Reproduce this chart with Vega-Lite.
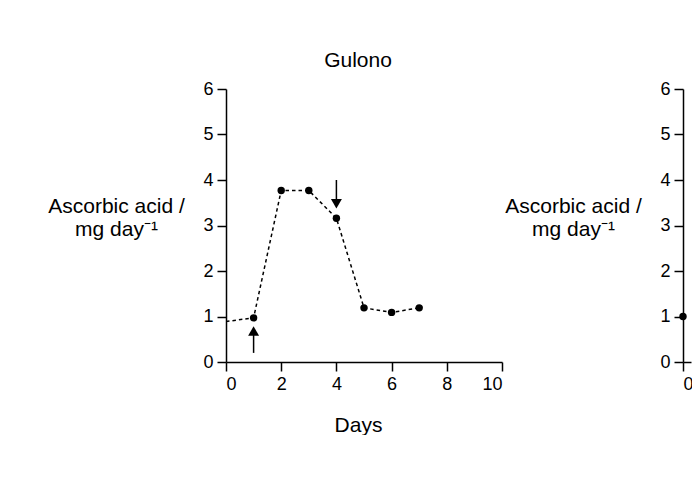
{
  "$schema": "https://vega.github.io/schema/vega-lite/v6.json",
  "padding": {"left": 47, "top": 50, "right": 0, "bottom": 0},
  "background": "white",
  "config": {
    "view": {"stroke": null},
    "font": "Liberation Sans",
    "axis": {
      "domainColor": "black", "domainWidth": 1.5,
      "tickColor": "black", "tickWidth": 1.5, "tickSize": 9,
      "labelFont": "Liberation Sans", "labelFontSize": 18, "labelColor": "black", "labelPadding": 4,
      "titleFont": "Liberation Sans", "titleFontSize": 21, "titleFontWeight": "normal", "titleColor": "black",
      "grid": false
    }
  },
  "bounds": "flush",
  "spacing": 181,
  "datasets": {
    "gulono": [
      {"day": 0, "value": 0.89},
      {"day": 1, "value": 0.97},
      {"day": 2, "value": 3.77},
      {"day": 3, "value": 3.77},
      {"day": 4, "value": 3.16},
      {"day": 5, "value": 1.19},
      {"day": 6, "value": 1.09},
      {"day": 7, "value": 1.19}
    ],
    "arrows": [
      {"day": 1, "shaft_from": 0.2, "shaft_to": 0.6, "head": 0.68, "dir": "up"},
      {"day": 4, "shaft_from": 4.0, "shaft_to": 3.5, "head": 3.48, "dir": "down"}
    ],
    "second": [
      {"day": 0, "value": 1.0}
    ]
  },
  "hconcat": [
    {
      "width": 276,
      "height": 273,
      "title": {"text": "Gulono", "fontSize": 21, "fontWeight": "normal", "font": "Liberation Sans", "color": "black", "frame": "group", "anchor": "middle", "baseline": "alphabetic", "offset": -8, "dx": -6},
      "layer": [
        {
          "data": {"name": "gulono"},
          "mark": {"type": "line", "interpolate": "linear", "strokeDash": [3.5, 3], "strokeWidth": 1.5, "color": "black"},
          "encoding": {
            "x": {"field": "day", "type": "quantitative", "scale": {"domain": [0, 10]},
                  "axis": {"title": "Days", "values": [0, 2, 4, 6, 8, 10], "titleBaseline": "alphabetic", "titleY": 69, "titleX": 132}},
            "y": {"field": "value", "type": "quantitative", "scale": {"domain": [0, 6]},
                  "axis": {"title": ["Ascorbic acid /", "mg day⁻¹"], "values": [0, 1, 2, 3, 4, 5, 6], "titleAngle": 0, "titleAlign": "center", "titleBaseline": "alphabetic", "titleX": -110, "titleY": 123, "titleLineHeight": 23.5}}
          }
        },
        {
          "data": {"name": "gulono"},
          "transform": [{"filter": "datum.day >= 1"}],
          "mark": {"type": "circle", "size": 55, "color": "black", "opacity": 1},
          "encoding": {
            "x": {"field": "day", "type": "quantitative"},
            "y": {"field": "value", "type": "quantitative"}
          }
        },
        {
          "data": {"name": "arrows"},
          "mark": {"type": "rule", "strokeWidth": 1.5, "color": "black"},
          "encoding": {
            "x": {"field": "day", "type": "quantitative"},
            "y": {"field": "shaft_from", "type": "quantitative"},
            "y2": {"field": "shaft_to"}
          }
        },
        {
          "data": {"name": "arrows"},
          "mark": {"type": "point", "filled": true, "color": "black", "opacity": 1, "size": 120},
          "encoding": {
            "x": {"field": "day", "type": "quantitative"},
            "y": {"field": "head", "type": "quantitative"},
            "shape": {"field": "dir", "type": "nominal", "scale": {"domain": ["up", "down"], "range": ["triangle-up", "triangle-down"]}, "legend": null}
          }
        }
      ]
    },
    {
      "width": 8,
      "height": 273,
      "data": {"name": "second"},
      "mark": {"type": "circle", "size": 55, "color": "black", "opacity": 1},
      "encoding": {
        "x": {"field": "day", "type": "quantitative", "scale": {"domain": [0, 0.29], "nice": false},
              "axis": {"title": null, "values": [0]}},
        "y": {"field": "value", "type": "quantitative", "scale": {"domain": [0, 6]},
              "axis": {"title": ["Ascorbic acid /", "mg day⁻¹"], "values": [0, 1, 2, 3, 4, 5, 6], "titleAngle": 0, "titleAlign": "center", "titleBaseline": "alphabetic", "titleX": -110, "titleY": 123, "titleLineHeight": 23.5}}
      }
    }
  ]
}
